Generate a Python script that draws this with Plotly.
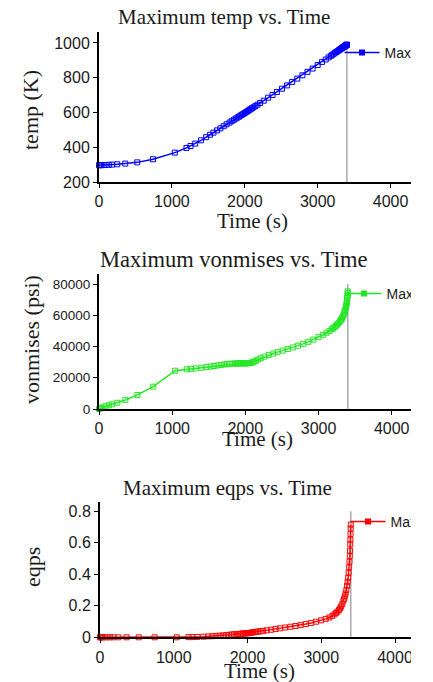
import plotly.graph_objects as go

# ---------------- data ----------------
time_s = [0, 10, 25, 45, 90, 135, 180, 250, 360, 525,
          740, 1040, 1200, 1255, 1320, 1400, 1470, 1525, 1570, 1620,
          1665, 1710, 1750, 1790, 1820, 1850, 1875, 1900, 1920, 1940,
          1960, 1980, 2000, 2020, 2040, 2060, 2080, 2100, 2120, 2145,
          2175, 2210, 2260, 2320, 2380, 2440, 2510, 2580, 2650, 2720,
          2790, 2860, 2930, 3000, 3060, 3110, 3150, 3180, 3200, 3220,
          3240, 3255, 3270, 3285, 3300, 3310, 3320, 3330, 3340, 3350,
          3358, 3365, 3372, 3378, 3383, 3387, 3390, 3393, 3395, 3397,
          3399, 3400]

temp_K = [297, 297, 297, 297, 298, 299, 300, 302, 306, 313,
          331, 369, 396, 407, 421, 440, 458, 472, 484, 497,
          509, 521, 532, 542, 550, 558, 565, 571, 576, 582,
          587, 592, 597, 603, 608, 614, 619, 625, 630, 637,
          645, 655, 668, 685, 701, 718, 737, 756, 776, 795,
          814, 834, 853, 873, 891, 905, 917, 926, 932, 938,
          944, 948, 952, 957, 961, 964, 967, 970, 973, 976,
          978, 980, 982, 984, 985, 986, 987, 988, 989, 989,
          990, 990]

vonmises_psi = [0, 200, 500, 1000, 1700, 2400, 3000, 4000, 5800, 9000,
                14300, 24500, 25400, 25700, 26000, 26400, 26900, 27200, 27500, 27900,
                28200, 28500, 28700, 28900, 29000, 29100, 29100, 29200, 29200, 29200,
                29200, 29200, 29200, 29300, 29300, 29400, 29600, 29900, 30300, 30900,
                31700, 32500, 33500, 34500, 35500, 36400, 37400, 38400, 39400, 40500,
                41700, 43000, 44400, 46000, 47500, 48800, 50000, 51000, 51700, 52500,
                53300, 54000, 54800, 55600, 56500, 57200, 58000, 58900, 59900, 61000,
                62200, 63300, 64600, 65900, 67200, 68400, 69500, 70800, 71800, 72900,
                74200, 75300]

eqps = [0, 0, 0, 0, 0, 0, 0, 0, 0, 0,
        0, 0, 0.001, 0.0015, 0.0025, 0.004, 0.006, 0.007, 0.009, 0.010,
        0.012, 0.014, 0.016, 0.018, 0.019, 0.020, 0.021, 0.022, 0.023, 0.024,
        0.0245, 0.025, 0.026, 0.027, 0.029, 0.030, 0.032, 0.033, 0.035, 0.036,
        0.038, 0.041, 0.044, 0.048, 0.053, 0.057, 0.062, 0.067, 0.072, 0.077,
        0.084, 0.091, 0.099, 0.108, 0.117, 0.126, 0.136, 0.146, 0.155, 0.163,
        0.173, 0.183, 0.196, 0.212, 0.232, 0.245, 0.260, 0.278, 0.300, 0.327,
        0.352, 0.378, 0.41, 0.445, 0.48, 0.515, 0.55, 0.59, 0.62, 0.655,
        0.69, 0.715]

current_time = 3400
x_ticks = [0, 1000, 2000, 3000, 4000]
temp_ticks = [200, 400, 600, 800, 1000]
vonmises_ticks = [0, 20000, 40000, 60000, 80000]
eqps_ticks = [0, 0.2, 0.4, 0.6, 0.8]

titles = ["Maximum temp vs. Time", "Maximum vonmises vs. Time", "Maximum eqps vs. Time"]
y_titles = ["temp (K)", "vonmises (psi)", "eqps"]
x_title = "Time (s)"
legend_names = ["Max temp", "Max vonmises", "Max eqps"]

# ---------------- layout helpers ----------------
W, H = 411, 682


def px(x):
    return x / W


def py(y):
    return 1 - y / H


SERIF = "Liberation Serif, Times New Roman, serif"
SANS = "Liberation Sans, Arial, sans-serif"
TXT = "#1a1a1a"

colors = ["#0000ff", "#22e622", "#ff0000"]
series = [temp_K, vonmises_psi, eqps]
tick_sets = [temp_ticks, vonmises_ticks, eqps_ticks]

panels = [
    dict(x0=99, xr=411, x4000=390.6, top=31.7, bottom=182.0, yrange=[200, 1065], yfont=16),
    dict(x0=99, xr=411, x4000=391.7, top=273.7, bottom=409.0, yrange=[0, 86600], yfont=13.5),
    dict(x0=100, xr=411, x4000=395.0, top=502.3, bottom=637.3, yrange=[0, 0.857], yfont=16),
]
title_pos = [(224, 17, 21), (234, 259, 22.5), (227, 488, 21)]
xtitle_pos = [(252, 221), (257, 439), (259, 671)]
ytitle_pos = [(31, 110), (31, 340), (32, 567)]
legend_pos = [(339.5, 53), (341.5, 294), (345.5, 522)]

fig = go.Figure()
layout = dict(
    width=W, height=H,
    margin=dict(l=0, r=0, t=0, b=0, autoexpand=False),
    paper_bgcolor="white", plot_bgcolor="white",
    showlegend=True,
    shapes=[], annotations=[],
)

for i in range(3):
    sfx = "" if i == 0 else str(i + 1)
    p = panels[i]
    xmax = (p["xr"] - p["x0"]) / (p["x4000"] - p["x0"]) * 4000
    axis_common = dict(
        showline=True, linecolor="black", linewidth=2,
        ticks="outside", ticklen=4, tickwidth=1, tickcolor="black",
        showgrid=False, zeroline=False, ticklabeloverflow="allow",
    )
    layout["xaxis" + sfx] = dict(
        axis_common, domain=[px(p["x0"]), px(p["xr"])], range=[0, xmax],
        tickvals=x_ticks, tickformat="d", anchor="y" + sfx, ticklabelstandoff=0,
        tickfont=dict(family=SANS, size=16, color=TXT),
    )
    layout["yaxis" + sfx] = dict(
        axis_common, domain=[py(p["bottom"]), py(p["top"])], range=p["yrange"],
        tickvals=tick_sets[i], tickformat="d" if i < 2 else "", anchor="x" + sfx,
        ticklabelstandoff=0,
        tickfont=dict(family=SANS, size=p["yfont"], color=TXT),
    )
    leg = "legend" + sfx
    # data trace
    fig.add_trace(go.Scatter(
        x=time_s, y=series[i], mode="lines+markers", name=legend_names[i],
        line=dict(color=colors[i], width=1.5),
        marker=dict(symbol="square-open", size=5, color=colors[i],
                    line=dict(width=1, color=colors[i])),
        xaxis="x" + sfx, yaxis="y" + sfx, legend=leg, cliponaxis=False,
        showlegend=False,
    ))
    # legend entry (filled marker, as in the reference key)
    fig.add_trace(go.Scatter(
        x=[None], y=[None], mode="lines+markers", name=legend_names[i],
        line=dict(color=colors[i], width=1.5),
        marker=dict(symbol="square", size=6, color=colors[i]),
        xaxis="x" + sfx, yaxis="y" + sfx, legend=leg, showlegend=True,
        hoverinfo="skip",
    ))
    lx, ly = legend_pos[i]
    layout[leg] = dict(
        x=px(lx), y=py(ly), xanchor="left", yanchor="middle",
        bgcolor="rgba(0,0,0,0)", borderwidth=0, itemwidth=35,
        font=dict(family=SANS, size=14, color=TXT),
    )
    layout["shapes"].append(dict(
        type="line", xref="x" + sfx, yref="y" + sfx,
        x0=current_time, x1=current_time, y0=p["yrange"][0], y1=tick_sets[i][-1],
        line=dict(color="#aaaaaa", width=1.5), layer="below",
    ))
    tx, ty, ts = title_pos[i]
    layout["annotations"].append(dict(
        text=titles[i], xref="paper", yref="paper", x=px(tx), y=py(ty),
        xanchor="center", yanchor="middle", showarrow=False,
        font=dict(family=SERIF, size=ts, color=TXT),
    ))
    tx, ty = xtitle_pos[i]
    layout["annotations"].append(dict(
        text=x_title, xref="paper", yref="paper", x=px(tx), y=py(ty),
        xanchor="center", yanchor="middle", showarrow=False,
        font=dict(family=SERIF, size=21, color=TXT),
    ))
    tx, ty = ytitle_pos[i]
    layout["annotations"].append(dict(
        text=y_titles[i], xref="paper", yref="paper", x=px(tx), y=py(ty),
        xanchor="center", yanchor="middle", showarrow=False, textangle=-90,
        font=dict(family=SERIF, size=22, color=TXT),
    ))

fig.update_layout(layout)
fig.write_html("out.html", config={"displayModeBar": False},
               post_script="document.body.style.margin='0';")
